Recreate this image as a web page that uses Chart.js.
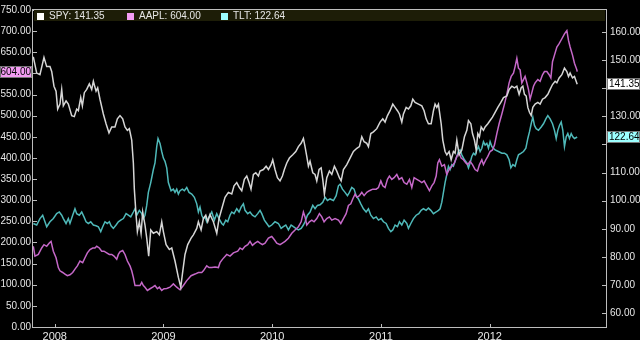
<!DOCTYPE html>
<html>
<head>
<meta charset="utf-8">
<script src="https://cdn.jsdelivr.net/npm/chart.js@4.4.1/dist/chart.umd.min.js"></script>
<style>
html,body{margin:0;padding:0;background:#000;}
canvas{display:block;}
</style>
</head>
<body>
<canvas id="c" width="640" height="340"></canvas>
<script>
// ---- Data (decimal years, prices) ----
const yearTicks = [2008, 2009, 2010, 2011, 2012];
const leftTicks = [0,50,100,150,200,250,300,350,400,450,500,550,600,650,700,750];
const rightTicks = [60,70,80,90,100,110,120,130,140,150,160];

const spyDates = [
2007.803,2007.834,2007.864,2007.901,2007.926,2007.956,2007.972,2007.993,2008.012,2008.027,
2008.048,2008.064,2008.079,2008.104,2008.125,2008.156,2008.180,2008.202,2008.217,2008.239,
2008.254,2008.272,2008.294,2008.318,2008.340,2008.355,2008.380,2008.395,2008.416,2008.447,
2008.472,2008.499,2008.524,2008.554,2008.576,2008.600,2008.625,2008.646,2008.668,2008.686,
2008.708,2008.723,2008.732,2008.748,2008.760,2008.778,2008.794,2008.809,2008.830,2008.846,
2008.864,2008.883,2008.907,2008.938,2008.962,2008.984,2008.999,2009.024,2009.054,2009.076,
2009.106,2009.137,2009.159,2009.174,2009.198,2009.223,2009.254,2009.275,2009.306,2009.321,
2009.346,2009.367,2009.389,2009.407,2009.428,2009.459,2009.490,2009.511,2009.536,2009.566,
2009.597,2009.628,2009.649,2009.674,2009.698,2009.720,2009.744,2009.766,2009.787,2009.805,
2009.827,2009.849,2009.873,2009.888,2009.919,2009.944,2009.965,2009.990,2010.005,2010.026,
2010.048,2010.072,2010.094,2010.112,2010.134,2010.158,2010.189,2010.217,2010.241,2010.266,
2010.287,2010.302,2010.318,2010.333,2010.348,2010.373,2010.394,2010.410,2010.431,2010.450,
2010.465,2010.480,2010.502,2010.526,2010.548,2010.572,2010.594,2010.618,2010.634,2010.655,
2010.686,2010.716,2010.747,2010.778,2010.802,2010.824,2010.845,2010.870,2010.885,2010.907,
2010.931,2010.962,2010.992,2011.017,2011.038,2011.060,2011.084,2011.109,2011.130,2011.152,
2011.170,2011.192,2011.207,2011.232,2011.253,2011.275,2011.293,2011.314,2011.345,2011.376,
2011.397,2011.416,2011.437,2011.462,2011.483,2011.498,2011.514,2011.529,2011.535,2011.554,
2011.569,2011.590,2011.606,2011.627,2011.646,2011.667,2011.682,2011.698,2011.719,2011.744,
2011.768,2011.790,2011.805,2011.827,2011.842,2011.860,2011.876,2011.891,2011.906,2011.922,
2011.943,2011.958,2011.983,2012.004,2012.026,2012.050,2012.075,2012.103,2012.127,2012.158,
2012.179,2012.204,2012.228,2012.250,2012.271,2012.290,2012.305,2012.320,2012.336,2012.351,
2012.366,2012.382,2012.397,2012.418,2012.443,2012.464,2012.486,2012.510,2012.535,2012.556,
2012.578,2012.602,2012.618,2012.639,2012.664,2012.688,2012.710,2012.725,2012.740,2012.762,
2012.780,2012.805];
const spyValues = [
151.14,145.36,144.77,150.93,147.66,147.66,145.92,140.69,138.95,132.57,
134.31,139.54,133.72,135.46,134.31,130.24,129.89,132.57,131.98,136.65,
133.72,138.39,139.54,141.53,139.54,142.43,138.95,140.13,136.06,130.83,
127.35,124.11,126.20,126.20,129.09,130.24,129.09,126.20,125.01,125.60,
121.53,113.41,104.11,94.84,89.02,92.51,88.43,95.99,91.36,86.69,
80.31,89.61,88.43,89.02,87.87,92.51,89.02,84.39,82.65,83.20,
78.57,72.75,69.27,73.94,80.90,84.39,86.69,87.87,90.17,92.51,
89.61,93.66,94.84,92.51,95.05,92.51,88.43,93.66,97.14,101.22,
102.96,102.37,105.29,106.44,104.70,103.55,107.59,108.78,106.44,104.11,
109.33,109.93,108.78,110.52,111.08,112.26,111.08,112.82,114.56,111.08,
108.18,107.03,108.78,111.08,113.41,115.15,116.30,117.49,119.23,120.38,
122.12,119.23,115.74,112.26,114.00,109.93,109.33,107.03,111.08,111.67,
107.59,102.37,108.18,110.52,109.33,112.26,110.52,108.18,107.03,111.08,
112.82,115.15,117.49,118.64,119.23,122.71,120.97,120.38,119.23,123.86,
124.45,125.60,127.94,129.09,127.94,130.24,131.98,134.31,133.16,131.98,
130.83,127.94,130.83,133.16,132.57,133.72,136.06,134.91,134.31,133.72,
131.98,129.09,127.35,127.35,131.98,134.31,133.16,134.31,132.57,127.35,
121.53,117.49,116.30,117.49,114.56,117.49,116.89,121.53,116.30,118.04,
122.71,125.01,128.50,127.35,123.86,121.53,118.04,123.86,122.71,126.20,
125.01,126.20,127.35,128.50,129.68,131.42,133.16,134.91,136.65,137.20,
139.54,140.69,140.13,140.69,137.80,140.13,140.69,137.80,137.20,133.16,
131.42,130.24,133.16,134.31,134.91,134.31,136.06,136.65,137.80,139.54,
141.28,142.43,141.87,143.62,144.77,147.10,145.92,144.17,145.36,143.62,
144.17,141.35];

const tltDates = [
2007.803,2007.834,2007.864,2007.889,2007.910,2007.926,2007.956,2007.987,2008.018,2008.042,
2008.064,2008.079,2008.104,2008.125,2008.140,2008.165,2008.186,2008.202,2008.226,2008.248,
2008.269,2008.288,2008.309,2008.331,2008.355,2008.380,2008.401,2008.423,2008.441,2008.462,
2008.484,2008.502,2008.518,2008.539,2008.564,2008.585,2008.607,2008.631,2008.656,2008.677,
2008.699,2008.723,2008.738,2008.754,2008.778,2008.800,2008.815,2008.830,2008.846,2008.861,
2008.883,2008.907,2008.922,2008.938,2008.950,2008.968,2008.984,2008.999,2009.014,2009.030,
2009.045,2009.070,2009.091,2009.106,2009.122,2009.137,2009.152,2009.174,2009.192,2009.214,
2009.235,2009.260,2009.284,2009.306,2009.321,2009.336,2009.352,2009.367,2009.382,2009.398,
2009.419,2009.444,2009.468,2009.490,2009.511,2009.536,2009.551,2009.573,2009.591,2009.612,
2009.628,2009.649,2009.674,2009.695,2009.714,2009.735,2009.750,2009.775,2009.796,2009.818,
2009.842,2009.867,2009.888,2009.904,2009.928,2009.950,2009.971,2009.996,2010.026,2010.057,
2010.082,2010.103,2010.125,2010.149,2010.174,2010.195,2010.217,2010.241,2010.266,2010.287,
2010.302,2010.324,2010.348,2010.373,2010.394,2010.416,2010.440,2010.465,2010.486,2010.508,
2010.532,2010.563,2010.588,2010.609,2010.624,2010.646,2010.670,2010.692,2010.710,2010.732,
2010.753,2010.772,2010.793,2010.815,2010.839,2010.864,2010.885,2010.907,2010.931,2010.956,
2010.977,2011.002,2011.023,2011.048,2011.069,2011.091,2011.109,2011.130,2011.152,2011.170,
2011.192,2011.213,2011.238,2011.253,2011.275,2011.299,2011.324,2011.348,2011.370,2011.391,
2011.416,2011.437,2011.459,2011.483,2011.508,2011.529,2011.544,2011.560,2011.575,2011.590,
2011.606,2011.621,2011.636,2011.652,2011.667,2011.682,2011.698,2011.713,2011.728,2011.744,
2011.768,2011.790,2011.805,2011.820,2011.836,2011.851,2011.866,2011.882,2011.897,2011.912,
2011.928,2011.943,2011.958,2011.974,2011.989,2012.004,2012.020,2012.035,2012.050,2012.081,
2012.112,2012.136,2012.158,2012.179,2012.195,2012.213,2012.234,2012.250,2012.265,2012.290,
2012.311,2012.333,2012.351,2012.366,2012.382,2012.397,2012.412,2012.428,2012.449,2012.474,
2012.495,2012.517,2012.535,2012.556,2012.578,2012.596,2012.612,2012.627,2012.642,2012.658,
2012.673,2012.688,2012.704,2012.719,2012.734,2012.750,2012.765,2012.780,2012.805];
const tltValues = [
91.91,91.36,93.66,94.84,92.51,90.76,92.51,93.66,95.40,95.99,
94.84,93.66,91.91,93.66,91.91,94.84,97.14,95.40,94.84,95.99,
94.25,92.51,91.91,92.51,91.36,91.11,90.76,89.02,90.76,92.51,
91.91,92.51,91.11,90.17,91.36,92.51,93.10,93.66,95.40,94.84,
94.25,95.99,97.14,94.84,96.58,95.40,93.66,94.84,98.32,102.96,
106.44,111.08,113.41,119.23,122.12,120.38,117.49,115.15,114.00,111.67,
106.44,103.55,104.11,102.96,104.11,102.37,103.55,104.11,103.55,104.70,
102.96,102.37,101.22,98.88,95.99,97.73,94.84,93.66,94.25,92.51,
94.25,95.99,93.10,95.40,93.66,91.91,91.36,93.10,92.51,94.84,
95.99,95.40,97.14,95.99,97.73,98.88,96.58,95.40,95.99,94.84,
94.25,95.40,96.58,95.40,93.10,91.91,90.76,91.36,92.51,91.91,
90.17,90.76,91.36,89.61,91.36,90.76,90.17,89.61,90.17,91.36,
92.51,94.84,95.99,98.32,97.14,98.32,98.53,99.47,101.22,100.07,
100.62,100.07,101.81,105.29,105.85,104.11,102.96,101.81,102.96,104.70,
104.11,101.81,100.62,98.88,97.14,95.99,97.14,94.84,93.66,94.25,
93.10,93.66,92.51,91.91,90.17,89.02,89.61,91.36,90.76,92.51,
91.36,93.10,91.91,90.17,91.91,93.66,94.84,95.40,96.58,97.14,
96.58,97.38,96.58,95.40,95.99,96.58,97.14,99.47,102.96,106.44,
109.33,112.26,111.08,112.82,112.26,114.00,115.74,117.49,118.04,116.30,
114.56,113.41,111.67,113.41,115.74,116.89,116.30,118.04,119.23,117.49,
118.64,120.97,119.79,120.38,118.64,120.97,119.23,118.64,118.04,117.49,
116.89,116.89,116.30,114.56,111.67,112.82,112.26,114.56,116.30,116.89,
117.49,118.64,122.12,124.45,127.35,129.68,126.75,125.60,125.01,126.20,
127.35,129.09,130.24,129.09,127.35,125.01,122.12,125.01,126.75,127.94,
125.01,119.23,122.71,123.86,122.12,123.86,122.71,122.12,122.64];

const aaplDates = [
2007.803,2007.818,2007.849,2007.880,2007.901,2007.926,2007.950,2007.966,2007.987,2008.012,
2008.033,2008.048,2008.073,2008.094,2008.116,2008.140,2008.165,2008.186,2008.208,2008.232,
2008.257,2008.278,2008.300,2008.324,2008.349,2008.370,2008.386,2008.410,2008.432,2008.453,
2008.478,2008.502,2008.524,2008.545,2008.570,2008.585,2008.600,2008.625,2008.646,2008.668,
2008.692,2008.708,2008.723,2008.738,2008.760,2008.784,2008.800,2008.815,2008.830,2008.852,
2008.876,2008.901,2008.922,2008.944,2008.962,2008.984,2009.005,2009.030,2009.060,2009.091,
2009.122,2009.152,2009.183,2009.214,2009.254,2009.290,2009.321,2009.352,2009.367,2009.398,
2009.419,2009.444,2009.474,2009.505,2009.520,2009.542,2009.582,2009.612,2009.643,2009.683,
2009.704,2009.726,2009.750,2009.775,2009.796,2009.818,2009.842,2009.867,2009.888,2009.910,
2009.934,2009.965,2009.996,2010.020,2010.042,2010.072,2010.094,2010.118,2010.149,2010.180,
2010.210,2010.241,2010.266,2010.287,2010.302,2010.318,2010.342,2010.364,2010.385,2010.410,
2010.434,2010.456,2010.477,2010.502,2010.526,2010.548,2010.578,2010.609,2010.631,2010.655,
2010.680,2010.701,2010.723,2010.741,2010.762,2010.778,2010.802,2010.824,2010.845,2010.870,
2010.894,2010.925,2010.956,2010.977,2010.999,2011.017,2011.038,2011.060,2011.078,2011.100,
2011.121,2011.146,2011.167,2011.192,2011.213,2011.238,2011.262,2011.284,2011.305,2011.330,
2011.354,2011.376,2011.397,2011.422,2011.446,2011.468,2011.489,2011.508,2011.523,2011.538,
2011.560,2011.584,2011.606,2011.627,2011.652,2011.676,2011.698,2011.719,2011.738,2011.759,
2011.781,2011.799,2011.820,2011.842,2011.866,2011.888,2011.906,2011.928,2011.943,2011.965,
2011.983,2012.004,2012.026,2012.044,2012.066,2012.087,2012.112,2012.136,2012.158,2012.179,
2012.198,2012.219,2012.234,2012.250,2012.265,2012.280,2012.296,2012.311,2012.326,2012.342,
2012.357,2012.372,2012.388,2012.403,2012.418,2012.443,2012.464,2012.486,2012.504,2012.526,
2012.547,2012.563,2012.578,2012.596,2012.618,2012.639,2012.664,2012.688,2012.710,2012.725,
2012.740,2012.762,2012.780,2012.802,2012.805];
const aaplValues = [
190.90,167.71,171.65,186.96,194.85,190.90,198.56,202.50,179.31,163.76,
140.57,132.91,128.97,125.26,121.32,123.63,128.97,136.86,144.51,156.11,
152.17,163.76,175.36,183.25,186.96,186.96,190.90,186.96,179.31,179.31,
175.36,171.65,171.65,167.71,160.05,171.65,177.68,180.93,171.65,156.11,
144.51,132.91,117.37,98.12,98.12,98.12,105.77,98.12,94.18,86.52,
90.46,94.18,98.12,90.46,94.18,86.52,90.46,91.16,94.18,102.06,
94.18,88.14,98.12,109.72,121.32,125.26,128.97,128.97,132.91,144.51,
140.57,140.57,142.19,140.57,152.17,160.05,171.65,167.71,175.36,179.31,
186.96,183.25,190.90,194.85,202.50,193.22,198.56,202.50,198.56,194.85,
198.56,210.16,214.10,206.44,198.56,194.85,198.56,202.50,210.16,221.75,
229.64,237.30,248.89,272.09,260.49,241.24,248.89,252.84,248.89,256.55,
268.15,260.49,248.89,256.55,260.49,252.84,256.55,252.84,244.95,256.55,
268.15,287.63,291.34,302.94,314.54,306.88,310.83,318.48,310.83,318.48,
322.42,326.14,326.14,330.08,345.62,334.02,330.08,349.33,357.22,349.33,
353.28,360.93,349.33,353.28,341.68,337.73,349.33,330.08,353.28,349.33,
345.62,341.68,345.62,334.02,322.42,334.02,341.68,357.22,388.07,395.72,
380.41,384.13,360.93,372.53,380.41,388.07,403.61,411.27,399.67,395.72,
388.07,384.13,392.01,384.13,372.53,368.82,384.13,395.72,384.13,395.72,
403.61,415.21,418.92,430.52,457.66,480.85,504.05,527.24,550.44,577.58,
592.89,600.78,616.09,635.57,612.37,608.43,577.58,585.24,592.89,577.58,
562.04,538.84,554.38,569.69,577.58,585.24,581.29,596.83,604.49,604.49,
596.83,589.18,627.68,643.23,662.48,670.36,681.96,693.56,701.22,678.02,
662.48,643.23,623.97,608.43,604.00];

// ---- Styles ----
const FONT = '"Liberation Sans", Arial, sans-serif';
const FSIZE = 10;
const TXT = '#e6e6e6';
const FRAME = '#bdbdbd';
const COLORS = { spy: '#d6d6d6', aapl: '#c568c8', tlt: '#4fb9b9' };
const BOX = { spy: '#ffffff', aapl: '#f39cf3', tlt: '#9cffff' };

function pts(d, v) {
  const n = Math.min(d.length, v.length);
  const out = [];
  for (let i = 0; i < n; i++) out.push({ x: d[i], y: v[i] });
  return out;
}
const last = a => a[a.length - 1];
const spyLast = last(spyValues), aaplLast = last(aaplValues), tltLast = last(tltValues);

function fmt(v) { return v.toFixed(2); }

const overlay = {
  id: 'overlay',
  beforeDraw(chart) {
    const c = chart.ctx;
    c.save();
    c.fillStyle = '#000';
    c.fillRect(0, 0, chart.width, chart.height);
    c.restore();
  },
  afterDraw(chart) {
    const c = chart.ctx;
    const a = chart.chartArea;
    const sx = chart.scales.x, sl = chart.scales.yL, sr = chart.scales.yR;
    c.save();
    // frame
    c.strokeStyle = FRAME;
    c.lineWidth = 1;
    c.strokeRect(a.left - 0.5, a.top - 0.5, a.right - a.left + 1, a.bottom - a.top + 1);
    // tick marks
    c.beginPath();
    leftTicks.forEach(t => { const y = Math.round(sl.getPixelForValue(t)) + 0.5; c.moveTo(a.left, y); c.lineTo(a.left + 4, y); });
    rightTicks.forEach(t => { const y = Math.round(sr.getPixelForValue(t)) + 0.5; c.moveTo(a.right - 4, y); c.lineTo(a.right, y); });
    yearTicks.forEach(t => { const x = Math.round(sx.getPixelForValue(t)) + 0.5; c.moveTo(x, a.bottom); c.lineTo(x, a.bottom - 3); });
    c.stroke();
    // legend band
    c.fillStyle = '#1d1d07';
    c.fillRect(a.left + 1, a.top, a.right - a.left - 2, 11);
    c.font = FSIZE + 'px ' + FONT;
    c.textBaseline = 'middle';
    c.textAlign = 'left';
    const items = [
      { x: 37, col: BOX.spy, txt: 'SPY: ' + fmt(spyLast) },
      { x: 127, col: BOX.aapl, txt: 'AAPL: ' + fmt(aaplLast) },
      { x: 221, col: BOX.tlt, txt: 'TLT: ' + fmt(tltLast) }
    ];
    items.forEach(it => {
      c.fillStyle = it.col;
      c.fillRect(it.x, a.top + 3, 7, 7);
      c.fillStyle = TXT;
      c.fillText(it.txt, it.x + 12, a.top + 6.5);
    });
    // last value boxes
    function box(x, w, y, bg, txt, align) {
      const yy = Math.round(y);
      c.fillStyle = bg;
      c.fillRect(x, yy - 6, w, 12);
      c.strokeStyle = '#777';
      c.strokeRect(x + 0.5, yy - 5.5, w - 1, 11);
      c.fillStyle = '#000';
      c.textAlign = align;
      c.fillText(txt, align === 'right' ? x + w - 1 : x + 2, yy + 0.5);
    }
    box(0, 32, sl.getPixelForValue(aaplLast), BOX.aapl, fmt(aaplLast), 'right');
    box(607, 33, sr.getPixelForValue(spyLast), BOX.spy, fmt(spyLast), 'left');
    box(607, 33, sr.getPixelForValue(tltLast), BOX.tlt, fmt(tltLast), 'left');
    c.restore();
  }
};

new Chart(document.getElementById('c'), {
  type: 'line',
  data: {
    datasets: [
      { label: 'SPY', data: pts(spyDates, spyValues), yAxisID: 'yR', borderColor: COLORS.spy, borderWidth: 1.5, pointRadius: 0, tension: 0 },
      { label: 'AAPL', data: pts(aaplDates, aaplValues), yAxisID: 'yL', borderColor: COLORS.aapl, borderWidth: 1.5, pointRadius: 0, tension: 0 },
      { label: 'TLT', data: pts(tltDates, tltValues), yAxisID: 'yR', borderColor: COLORS.tlt, borderWidth: 1.5, pointRadius: 0, tension: 0 }
    ]
  },
  options: {
    responsive: false,
    animation: false,
    events: [],
    layout: { padding: { top: 4, left: 0, right: 0, bottom: 0 } },
    plugins: { legend: { display: false }, tooltip: { enabled: false } },
    scales: {
      x: {
        type: 'linear', position: 'bottom', min: 2007.8, max: 2013.07,
        afterBuildTicks: s => { s.ticks = yearTicks.map(v => ({ value: v })); },
        afterFit: s => { s.height = 13; },
        grid: { display: false, drawTicks: false },
        border: { display: false },
        ticks: { color: TXT, font: { family: FONT, size: FSIZE + 1 }, padding: 3, maxRotation: 0, autoSkip: false,
                 callback: v => String(v) }
      },
      yL: {
        type: 'linear', position: 'left', min: 0, max: 750,
        afterBuildTicks: s => { s.ticks = leftTicks.map(v => ({ value: v })); },
        afterFit: s => { s.width = 33; },
        grid: { display: false, drawTicks: false },
        border: { display: false },
        ticks: { color: TXT, font: { family: FONT, size: FSIZE }, padding: 2, autoSkip: false,
                 callback: v => (Math.abs(v - aaplLast) < 28 ? '' : fmt(v)) }
      },
      yR: {
        type: 'linear', position: 'right', min: 55.12, max: 167.77,
        afterBuildTicks: s => { s.ticks = rightTicks.map(v => ({ value: v })); },
        afterFit: s => { s.width = 34; },
        grid: { display: false, drawTicks: false },
        border: { display: false },
        ticks: { color: TXT, font: { family: FONT, size: FSIZE }, padding: 4, autoSkip: false,
                 callback: v => ((Math.abs(v - spyLast) < 4.3 || Math.abs(v - tltLast) < 4.3) ? '' : fmt(v)) }
      }
    }
  },
  plugins: [overlay]
});
</script>
</body>
</html>
